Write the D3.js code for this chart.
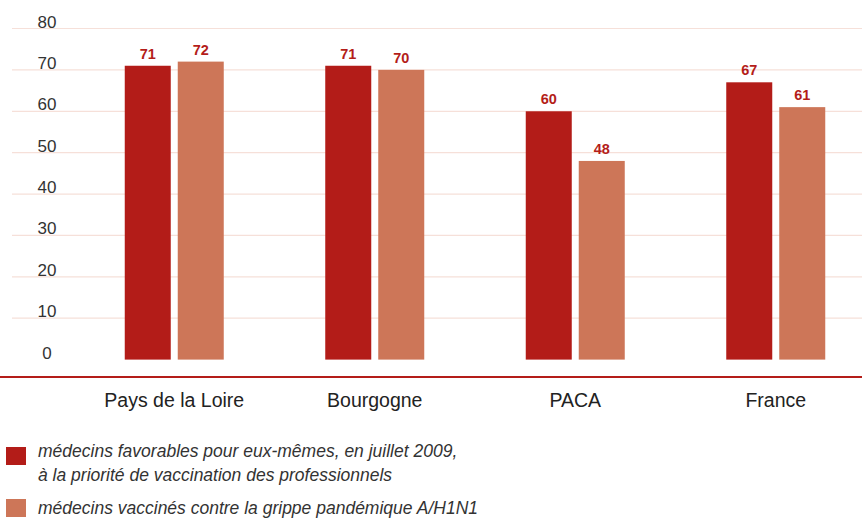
<!DOCTYPE html>
<html lang="fr">
<head>
  <meta charset="UTF-8" />
  <title>Vaccination A/H1N1</title>
  <script src="https://d3js.org/d3.v7.min.js"></script>
  <style>
    body { margin: 0; background: #fff; }
    svg { display: block; font-family: 'Liberation Sans', Arial, sans-serif; }
    .tick-label { fill: #333; font-size: 17px; }
    .cat-label { fill: #222; font-size: 19.5px; }
    .value { fill: #b41d19; font-size: 14.5px; font-weight: bold; }
    .legend { fill: #333; font-size: 17.5px; font-style: italic; }
  </style>
</head>
<body>
<script>
  const categories = ["Pays de la Loire", "Bourgogne", "PACA", "France"];
  const favorables = [71, 71, 60, 67];
  const vaccines = [72, 70, 48, 61];
  const yTicks = [0, 10, 20, 30, 40, 50, 60, 70, 80];
  const seriesNames = ["favorables", "vaccines"];
  const legendLines = [
    ["médecins favorables pour eux-mêmes, en juillet 2009,", "à la priorité de vaccination des professionnels"],
    ["médecins vaccinés contre la grippe pandémique A/H1N1"]
  ];

  const width = 862, height = 519;
  const colors = ["#b31c18", "#cd7658"];

  const svg = d3.select("body").append("svg")
    .attr("width", width)
    .attr("height", height);

  const y = d3.scaleLinear().domain([0, 80]).range([359.6, 28.5]);
  const x = d3.scaleBand().domain(categories).range([74, 876]);
  const inner = d3.scaleBand().domain(seriesNames).range([0, 99]).paddingInner(0.132);
  const groupOffset = (x.bandwidth() - 99) / 2;

  // grid lines
  svg.append("g").selectAll("line")
    .data(yTicks.filter(d => d > 0))
    .enter().append("line")
    .attr("x1", 12).attr("x2", width)
    .attr("y1", d => y(d)).attr("y2", d => y(d))
    .attr("stroke", "#f6e0d9")
    .attr("stroke-width", 1.2);

  // tick labels
  svg.append("g").selectAll("text")
    .data(yTicks)
    .enter().append("text")
    .attr("class", "tick-label")
    .attr("x", 47)
    .attr("y", d => y(d) - 1)
    .attr("text-anchor", "middle")
    .text(d => d);

  // bars
  const rows = categories.map((c, i) => ({ cat: c, values: [favorables[i], vaccines[i]] }));
  const groups = svg.append("g").selectAll("g")
    .data(rows)
    .enter().append("g")
    .attr("transform", d => `translate(${x(d.cat) + groupOffset},0)`);

  groups.selectAll("rect")
    .data(d => d.values.map((v, j) => ({ key: seriesNames[j], v, j })))
    .enter().append("rect")
    .attr("x", d => inner(d.key))
    .attr("width", inner.bandwidth())
    .attr("y", d => y(d.v))
    .attr("height", d => y(0) - y(d.v))
    .attr("fill", d => colors[d.j]);

  groups.selectAll("text")
    .data(d => d.values.map((v, j) => ({ key: seriesNames[j], v, j })))
    .enter().append("text")
    .attr("class", "value")
    .attr("x", d => inner(d.key) + inner.bandwidth() / 2)
    .attr("y", d => y(d.v) - 7)
    .attr("text-anchor", "middle")
    .text(d => d.v);

  // baseline axis
  svg.append("line")
    .attr("x1", 0).attr("x2", width)
    .attr("y1", 377).attr("y2", 377)
    .attr("stroke", "#b41d19")
    .attr("stroke-width", 2);

  // category labels
  svg.append("g").selectAll("text")
    .data(categories)
    .enter().append("text")
    .attr("class", "cat-label")
    .attr("x", d => x(d) + x.bandwidth() / 2)
    .attr("y", 407)
    .attr("text-anchor", "middle")
    .text(d => d);

  // legend
  const legendTop = [447, 499];
  const legendBase = [457, 514];
  const legend = svg.append("g").selectAll("g")
    .data(legendLines)
    .enter().append("g");

  legend.append("rect")
    .attr("x", 6)
    .attr("y", (d, i) => legendTop[i])
    .attr("width", 20).attr("height", 18)
    .attr("fill", (d, i) => colors[i]);

  legend.each(function(lines, i) {
    const t = d3.select(this).append("text")
      .attr("class", "legend")
      .attr("x", 38)
      .attr("y", legendBase[i]);
    lines.forEach((l, k) => {
      t.append("tspan").attr("x", 38).attr("dy", k === 0 ? 0 : 24).text(l);
    });
  });
</script>
</body>
</html>
